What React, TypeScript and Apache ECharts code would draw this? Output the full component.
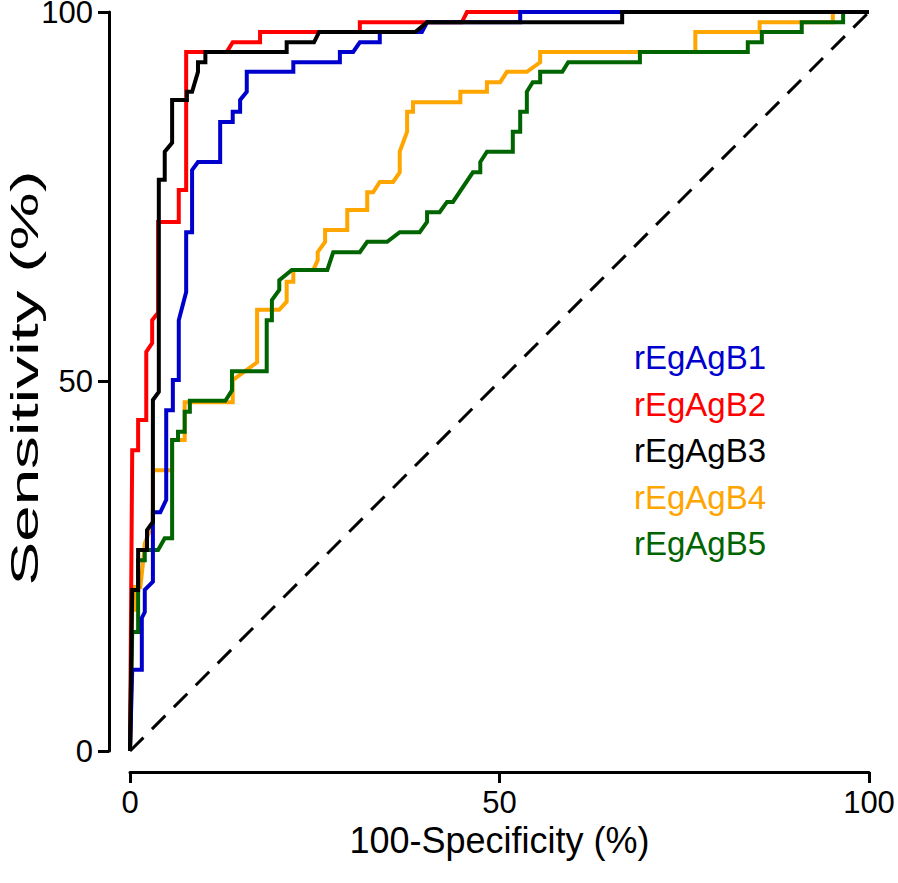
import React, { useEffect, useRef } from 'react';
import * as echarts from 'echarts';

const seriesNames = ['rEgAgB1', 'rEgAgB2', 'rEgAgB3', 'rEgAgB4', 'rEgAgB5'];
const seriesColors = ['#0000CD', '#FF0000', '#000000', '#FFA500', '#006400'];
const xTitle = '100-Specificity (%)';
const yTitle = 'Sensitivity (%)';

// [100-Specificity (%), Sensitivity (%)]
const rEgAgB1 = [[0,0],[0.3,11.0],[1.6,11.0],[1.6,18.0],[2.0,18.8],[2.0,21.8],[3.1,22.9],[3.1,32.3],[4.1,32.3],[4.9,34.0],[4.9,46.1],[5.8,46.1],[5.8,50.2],[6.6,50.2],[6.6,58.3],[7.6,62.1],[7.6,70.2],[8.4,70.2],[8.4,78.6],[9.2,79.7],[12.2,79.7],[12.2,85.1],[13.9,85.1],[13.9,86.5],[14.9,86.5],[14.9,88.1],[15.8,89.2],[15.8,91.9],[22.1,91.9],[22.1,93.2],[28.4,93.2],[28.4,94.6],[30.2,94.6],[31.1,95.9],[33.8,95.9],[33.8,97.3],[39.5,97.3],[40.2,98.6],[52.8,98.6],[52.8,100],[100,100]];
const rEgAgB2 = [[0,0],[0.3,40.7],[1.1,40.7],[1.1,44.8],[2.2,44.8],[2.2,54.0],[3.0,55.2],[3.0,58.3],[3.8,59.3],[3.8,71.6],[6.6,71.6],[6.6,75.9],[7.6,75.9],[7.6,94.6],[13.1,94.6],[13.9,95.9],[17.6,95.9],[17.6,97.3],[31.1,97.3],[31.1,98.6],[44.9,98.6],[45.6,100],[100,100]];
const rEgAgB3 = [[0,0],[0.3,21.8],[1.1,21.8],[1.1,27.2],[2.3,27.2],[2.3,29.9],[3.1,31.0],[3.1,47.5],[3.9,48.6],[3.9,77.3],[4.7,77.3],[4.7,81.1],[5.7,82.3],[5.7,88.1],[7.7,88.1],[7.7,89.2],[8.4,89.2],[9.2,91.9],[9.2,93.2],[10.2,93.2],[10.2,94.6],[21.2,94.6],[21.2,95.9],[24.9,95.9],[25.6,97.3],[38.6,97.3],[40.2,98.6],[66.6,98.6],[66.6,100],[100,100]];
const rEgAgB4 = [[0,0],[0.3,19.1],[0.7,19.1],[0.7,22.2],[1.4,22.2],[1.8,25.8],[2.0,28.1],[3.1,30.9],[3.1,38.0],[5.7,38.0],[5.7,42.1],[7.4,42.1],[7.4,47.2],[13.9,47.2],[13.9,50.2],[17.2,52.6],[17.2,59.7],[20.2,59.7],[21.2,60.8],[21.2,63.5],[22.1,63.5],[22.1,65.1],[24.8,65.1],[25.4,66.4],[25.4,67.5],[26.4,68.9],[26.4,70.5],[29.4,70.5],[29.4,73.2],[32.1,73.2],[32.1,75.6],[32.9,75.6],[33.8,77.0],[35.6,77.0],[36.5,78.3],[36.5,81.1],[37.5,83.8],[37.5,86.5],[38.3,86.5],[38.3,87.8],[44.7,87.8],[44.7,89.2],[48.3,89.2],[48.3,90.5],[50.1,90.5],[51.0,91.9],[53.7,91.9],[55.5,93.2],[55.5,94.6],[76.5,94.6],[76.5,97.3],[85.2,97.3],[85.2,98.6],[95.1,98.6],[95.1,100],[100,100]];
const rEgAgB5 = [[0,0],[0.3,16.1],[1.1,16.1],[1.1,25.8],[2.0,25.8],[2.0,27.2],[3.8,27.2],[4.7,28.8],[5.7,28.8],[5.7,42.1],[6.5,42.1],[6.5,43.2],[7.4,43.2],[7.4,45.9],[8.1,45.9],[8.1,47.4],[12.9,47.4],[13.8,48.8],[13.8,51.4],[18.5,51.4],[18.5,58.3],[19.2,58.3],[19.2,61.0],[20.2,62.4],[20.2,63.7],[21.9,65.1],[26.7,65.1],[27.5,67.5],[31.1,67.5],[32.1,68.9],[34.8,68.9],[36.5,70.2],[39.2,70.2],[40.2,71.6],[40.2,72.9],[41.9,72.9],[42.9,74.3],[43.7,74.3],[46.4,78.3],[47.4,78.3],[47.4,79.7],[48.3,81.1],[51.8,81.1],[51.8,83.8],[52.8,83.8],[52.8,86.5],[53.7,86.5],[53.7,89.2],[54.5,90.5],[55.5,90.5],[55.5,91.9],[58.5,91.9],[59.3,93.2],[69.0,93.2],[69.0,94.6],[83.6,94.6],[83.6,95.9],[85.5,95.9],[85.5,97.3],[90.9,97.3],[90.9,98.6],[96.5,98.6],[96.5,100],[100,100]];
const referenceLine = [[0,0],[100,100]];

const curves = [rEgAgB1, rEgAgB2, rEgAgB3, rEgAgB4, rEgAgB5];
// drawing order, bottom to top
const drawOrder = [3, 4, 1, 0, 2];

export default function App() {
  const ref = useRef<HTMLDivElement>(null);
  useEffect(() => {
    if (!ref.current) return;
    const chart = echarts.init(ref.current, null, { renderer: 'svg' });
    const font = '"Liberation Sans", Arial, Helvetica, sans-serif';
    const series: any[] = [
      {
        name: 'reference',
        type: 'line',
        data: referenceLine,
        symbol: 'none',
        clip: false,
        silent: true,
        lineStyle: { color: '#000', width: 3, type: [19, 12] },
        z: 1,
      },
    ];
    drawOrder.forEach((i, k) => {
      series.push({
        name: seriesNames[i],
        type: 'line',
        data: curves[i],
        symbol: 'none',
        showSymbol: false,
        clip: false,
        lineStyle: { color: seriesColors[i], width: 4, join: 'miter' },
        itemStyle: { color: seriesColors[i] },
        emphasis: { disabled: true },
        z: 2 + k,
      });
    });
    chart.setOption({
      animation: false,
      grid: { left: 130, right: 29, top: 12, bottom: 132, containLabel: false, outerBoundsMode: 'none' },
      xAxis: {
        type: 'value',
        min: 0,
        max: 100,
        interval: 50,
        offset: 21,
        splitLine: { show: false },
        axisLine: { show: true, onZero: false, lineStyle: { color: '#000', width: 3 } },
        axisTick: { show: true, length: 11, inside: false, lineStyle: { color: '#000', width: 3 } },
        axisLabel: { color: '#000', fontSize: 31, fontFamily: font, margin: 15 },
        name: xTitle,
        nameLocation: 'middle',
        nameGap: 42,
        nameTextStyle: { color: '#000', fontSize: 36, fontFamily: font },
      },
      yAxis: {
        type: 'value',
        min: 0,
        max: 100,
        interval: 50,
        offset: 21,
        splitLine: { show: false },
        axisLine: { show: true, onZero: false, lineStyle: { color: '#000', width: 3 } },
        axisTick: { show: true, length: 11, inside: false, lineStyle: { color: '#000', width: 3 } },
        axisLabel: { color: '#000', fontSize: 31, fontFamily: font, margin: 16 },
      },
      graphic: [
        {
          type: 'text',
          x: 24,
          y: 378,
          rotation: Math.PI / 2,
          scaleX: 1.68,
          silent: true,
          style: {
            text: yTitle,
            fill: '#000',
            fontSize: 39,
            fontFamily: font,
            align: 'center',
            verticalAlign: 'middle',
          },
        },
      ],
      legend: {
        orient: 'vertical',
        left: 624,
        top: 336,
        icon: 'none',
        itemWidth: 0,
        itemHeight: 32,
        itemGap: 13.5,
        selectedMode: false,
        textStyle: { fontSize: 33, fontFamily: font },
        data: seriesNames.map((n, i) => ({ name: n, textStyle: { color: seriesColors[i] } })),
      },
      series,
    });
    return () => chart.dispose();
  }, []);
  return (
    <div
      ref={ref}
      style={{ position: 'fixed', left: 0, top: 0, width: 898, height: 883, background: '#fff' }}
    />
  );
}
